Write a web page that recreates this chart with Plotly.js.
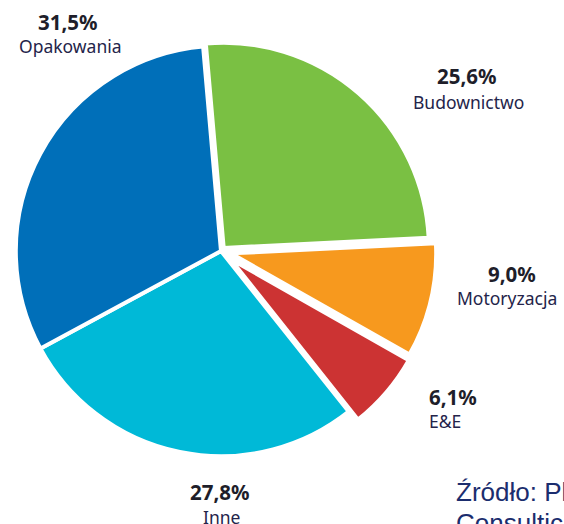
<!DOCTYPE html>
<html>
<head>
<meta charset="utf-8">
<script src="https://cdn.plot.ly/plotly-3.0.1.min.js"></script>
<style>html,body{margin:0;padding:0;background:#fff;}#chart{width:564px;height:524px;}</style>
</head>
<body>
<div id="chart"></div>
<script>
// Data
var categories = ["Budownictwo", "Motoryzacja", "E&E", "Inne", "Opakowania"];
var shares = [25.6, 9.0, 6.1, 27.8, 31.5];
var sliceColors = ["#7ac043", "#f7991e", "#cc3333", "#00b9d7", "#006fb9"];
var pulls = [0.02, 0.05, 0.06, 0, 0];
var sourceLines = ["Źródło: PlasticsEurope", "Consultic"];

// label positions (pixels) for each category: [numX, numY, labX, labY, anchor]
var labelPos = [
  [467, 76, 468, 102, "center"],
  [512, 274, 507, 298, "center"],
  [427, 397, 427, 421, "left"],
  [220, 492, 221, 517, "center"],
  [68, 22, 70, 46, "center"]
];

var W = 564, H = 524;
function px(x){ return x / W; }
function py(y){ return 1 - y / H; }
function fmt(v){ return v.toFixed(1).replace(".", ",") + "%"; }

var annotations = [];
for (var i = 0; i < categories.length; i++) {
  var p = labelPos[i];
  annotations.push({
    xref: "paper", yref: "paper", x: px(p[0]), y: py(p[1]),
    xanchor: p[4], yanchor: "middle", showarrow: false,
    text: "<b>" + fmt(shares[i]) + "</b>",
    font: {family: "Noto Sans", size: 20.5, color: "#1e1e2a"}
  });
  annotations.push({
    xref: "paper", yref: "paper", x: px(p[2]), y: py(p[3]),
    xanchor: p[4], yanchor: "middle", showarrow: false,
    text: categories[i],
    font: {family: "Noto Sans", size: 17.5, color: "#24244a"}
  });
}
var srcY = [492, 523];
for (var j = 0; j < sourceLines.length; j++) {
  annotations.push({
    xref: "paper", yref: "paper", x: px(454), y: py(srcY[j]),
    xanchor: "left", yanchor: "middle", align: "left", showarrow: false,
    text: sourceLines[j],
    font: {family: "Liberation Sans", size: 26, color: "#1b2d6e"}
  });
}

var trace = {
  type: "pie",
  labels: categories,
  values: shares,
  sort: false,
  direction: "clockwise",
  rotation: -5,
  pull: pulls,
  marker: {colors: sliceColors, line: {color: "#ffffff", width: 4}},
  textinfo: "none",
  hoverinfo: "label+percent",
  domain: {x: [3.5 / W, 438.5 / W], y: [py(468.5), py(33.5)]},
  showlegend: false
};

var layout = {
  width: W, height: H,
  margin: {l: 0, r: 0, t: 0, b: 0},
  paper_bgcolor: "#ffffff",
  showlegend: false,
  annotations: annotations
};

Plotly.newPlot("chart", [trace], layout, {displayModeBar: false, staticPlot: true});
</script>
</body>
</html>
